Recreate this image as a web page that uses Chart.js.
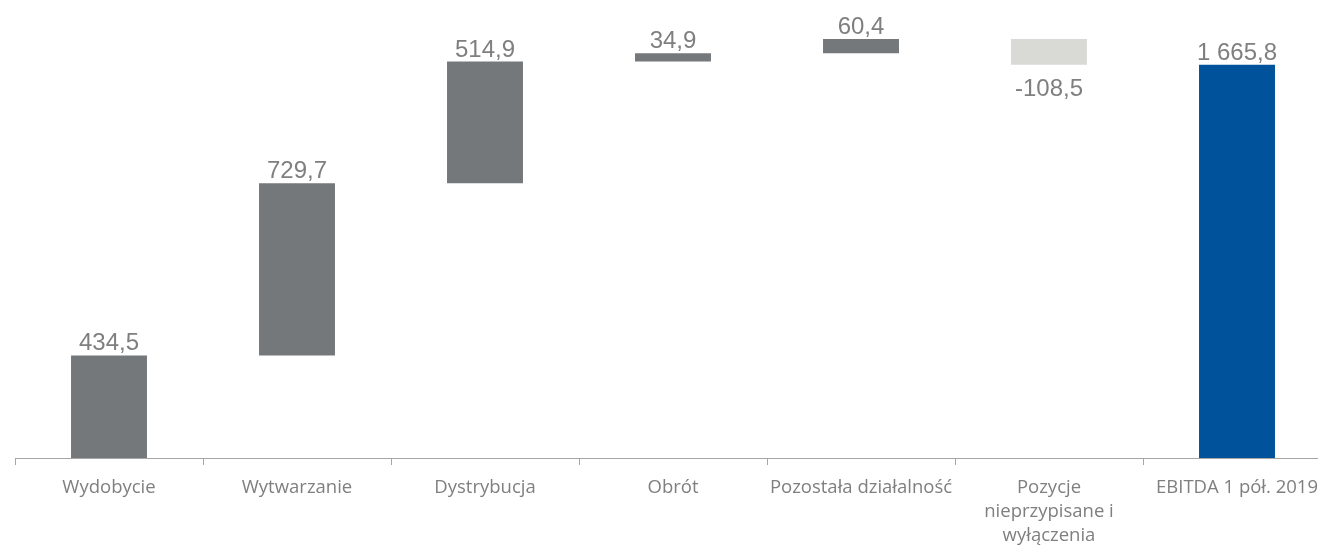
<!DOCTYPE html>
<html>
<head>
<meta charset="utf-8">
<script src="https://cdn.jsdelivr.net/npm/chart.js@4"></script>
<style>
  html, body { margin: 0; padding: 0; background: #ffffff; overflow: hidden; }
  #wrap { width: 1318px; height: 548px; }
</style>
</head>
<body>
<div id="wrap"><canvas id="c" width="1318" height="548"></canvas></div>
<script>
const categories = ["Wydobycie", "Wytwarzanie", "Dystrybucja", "Obrót", "Pozostała działalność", ["Pozycje", "nieprzypisane i", "wyłączenia"], "EBITDA 1 pół. 2019"];
const values = [434.5, 729.7, 514.9, 34.9, 60.4, -108.5, 1665.8];
const isTotal = [false, false, false, false, false, false, true];
const yMin = 0;
const yMax = 1940;

const colorPos = "#75787b";
const colorNeg = "#d9d9d6";
const colorTotal = "#00529b";

let running = 0;
const ranges = values.map((v, i) => {
  if (isTotal[i]) { running = v; return [0, v]; }
  const start = running;
  running += v;
  return [start, running];
});
const colors = values.map((v, i) => isTotal[i] ? colorTotal : (v < 0 ? colorNeg : colorPos));

function fmt(v) {
  const neg = v < 0;
  let s = Math.abs(v).toFixed(1);
  let [intPart, dec] = s.split(".");
  intPart = intPart.replace(/\B(?=(\d{3})+(?!\d))/g, " ");
  return (neg ? "-" : "") + intPart + "," + dec;
}

// The original plot runs slightly past the right edge of the picture (last label is cut off)
const plotOverflowRight = 13;
const extendRight = {
  id: "extendRight",
  afterLayout(chart) {
    const x = chart.scales.x;
    const target = chart.width + plotOverflowRight;
    x.right = target;
    x.width = target - x.left;
    x.configure();
    chart.chartArea.right = target;
    chart.chartArea.width = target - chart.chartArea.left;
  }
};

const labelPlugin = {
  id: "valueLabels",
  afterDatasetsDraw(chart) {
    const ctx = chart.ctx;
    const meta = chart.getDatasetMeta(0);
    ctx.save();
    ctx.font = "24px 'Liberation Sans', Arial, sans-serif";
    ctx.fillStyle = "#7f7f7f";
    ctx.textAlign = "center";
    meta.data.forEach((bar, i) => {
      const v = values[i];
      const top = Math.min(bar.y, bar.base);
      const bottom = Math.max(bar.y, bar.base);
      if (v < 0 && !isTotal[i]) {
        ctx.textBaseline = "top";
        ctx.fillText(fmt(v), bar.x, bottom + 13);
      } else {
        ctx.textBaseline = "alphabetic";
        ctx.fillText(fmt(v), bar.x, top - 5);
      }
    });
    ctx.restore();
  }
};

new Chart(document.getElementById("c"), {
  type: "bar",
  data: {
    labels: categories,
    datasets: [{
      data: ranges,
      backgroundColor: colors,
      borderWidth: 0,
      borderSkipped: false,
      categoryPercentage: 1.0,
      barPercentage: 0.404
    }]
  },
  options: {
    responsive: false,
    animation: false,
    layout: { padding: { left: 15, right: 0, top: 0, bottom: 0 } },
    plugins: { legend: { display: false }, tooltip: { enabled: false } },
    scales: {
      x: {
        offset: true,
        grid: {
          offset: true,
          drawOnChartArea: false,
          drawTicks: true,
          tickLength: 7,
          color: "#a6a6a6",
          lineWidth: 1
        },
        border: { display: true, color: "#a6a6a6", width: 1 },
        ticks: {
          color: "#7f7f7f",
          font: { family: "'Open Sans', sans-serif", size: 18.5, lineHeight: 1.3 },
          padding: 11,
          maxRotation: 0,
          autoSkip: false
        },
        afterFit(scale) { scale.height = 90; }
      },
      y: {
        display: false,
        min: yMin,
        max: yMax
      }
    }
  },
  plugins: [extendRight, labelPlugin]
});
</script>
</body>
</html>
